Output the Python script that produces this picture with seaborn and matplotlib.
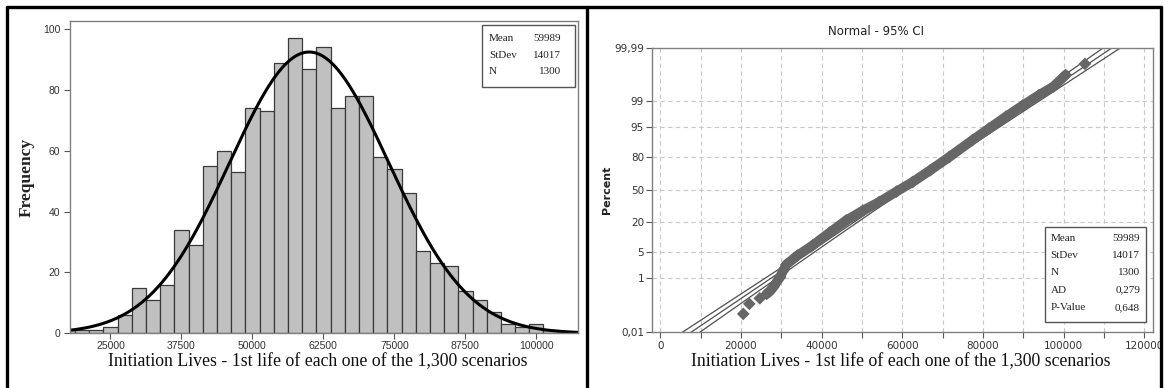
import numpy as np
import pandas as pd
import matplotlib
matplotlib.use("Agg")
import matplotlib.pyplot as plt
import seaborn as sns
from matplotlib.patches import Rectangle
from matplotlib.lines import Line2D
from statistics import NormalDist

# ---------------- data ----------------
bin_centers = [17500, 20000, 22500, 25000, 27500, 30000, 32500, 35000, 37500, 40000,
               42500, 45000, 47500, 50000, 52500, 55000, 57500, 60000, 62500, 65000,
               67500, 70000, 72500, 75000, 77500, 80000, 82500, 85000, 87500, 90000,
               92500, 95000, 97500, 100000, 102500]
counts = [1, 1, 1, 2, 6, 15, 11, 16, 34, 29,
          55, 60, 53, 74, 73, 89, 97, 87, 94, 74,
          78, 78, 58, 54, 46, 27, 23, 22, 14, 11,
          7, 3, 2, 3, 1]
bin_width = 2500

mean_val = 59989
std_val = 14017
n_val = 1300
ad_text = "0,279"
pval_text = "0,648"

# probability plot: points (value, cumulative percent)
pp_value = [20600, 22100, 24700, 26400, 27200, 28000, 29700, 30500, 31300,
            34000, 37800, 42000, 46100, 50200, 54300, 58600, 62600, 67000,
            71700, 77400, 81500, 85700, 89800, 93900, 97500, 100500, 105300]
pp_percent = [0.057, 0.139, 0.222, 0.317, 0.39, 0.53, 1.09, 1.71, 2.5,
              4.2, 7.2, 13.0, 21.0, 29.0, 37.3, 48.0, 57.9, 69.5,
              80.4, 90.2, 94.5, 97.17, 98.6, 99.33, 99.65, 99.865, 99.95]
# points that sit apart from the dense band (drawn as lone diamonds)
pp_isolated = [True, True, True, False, False, False, False, False, False,
               False, False, False, False, False, False, False, False, False,
               False, False, False, False, False, False, False, False, True]

hist_xticks = [25000, 37500, 50000, 62500, 75000, 87500, 100000]
hist_yticks = [0, 20, 40, 60, 80, 100]
prob_xticks = [0, 20000, 40000, 60000, 80000, 100000, 120000]
prob_ypct = [0.01, 1, 5, 20, 50, 80, 95, 99, 99.99]
prob_ylabels = ["0,01", "1", "5", "20", "50", "80", "95", "99", "99,99"]
xlabel_text = "Initiation Lives - 1st life of each one of the 1,300 scenarios"

# ---------------- figure ----------------
W, H = 1164, 388
sns.set_theme(style="white")
plt.rcParams['font.family'] = ['DejaVu Sans']
fig = plt.figure(figsize=(W / 100, H / 100), dpi=100)
fig.patch.set_facecolor("white")


def fx(x):
    return x / W


def fy(y):
    return 1 - y / H


def add_axes_px(x0, x1, ytop, ybot):
    return fig.add_axes([fx(x0), fy(ybot), fx(x1) - fx(x0), (ybot - ytop) / H])


# ---------- left: histogram ----------
ax1 = add_axes_px(70, 578, 20.7, 333.3)
hist_df = pd.DataFrame({"center": bin_centers, "count": counts})
sns.histplot(data=hist_df, x="center", weights="count", binwidth=bin_width,
             binrange=(bin_centers[0] - bin_width / 2, bin_centers[-1] + bin_width / 2),
             ax=ax1, color="#c0c0c0", edgecolor="#3a3a3a", linewidth=0.9, alpha=1)
xlo, xhi = 17875, 107325
xs = np.linspace(xlo, xhi, 500)
ys = n_val * bin_width * np.exp(-0.5 * ((xs - mean_val) / std_val) ** 2) / (std_val * np.sqrt(2 * np.pi))
sns.lineplot(x=xs, y=ys, ax=ax1, color="black", linewidth=2.2)
ax1.set_xlim(xlo, xhi)
ax1.set_ylim(0, 102.8)
ax1.set_xticks(hist_xticks)
ax1.set_xticklabels([str(t) for t in hist_xticks], fontsize=7.5,
                    family="Liberation Sans", color="#333333")
ax1.set_yticks(hist_yticks)
ax1.set_yticklabels([str(t) for t in hist_yticks], fontsize=7.5,
                    family="Liberation Sans", color="#333333")
ax1.tick_params(axis="both", direction="out", length=4, width=0.8, color="#555555", pad=3)
ax1.tick_params(axis="x", bottom=True, pad=1.5)
ax1.tick_params(axis="y", left=True)
for s in ax1.spines.values():
    s.set_color("#808080")
    s.set_linewidth(1.0)
ax1.set_ylabel("")
ax1.set_xlabel("")
fig.text(fx(318), fy(362), xlabel_text, ha="center", va="center",
         family="Liberation Serif", fontsize=12.8, color="#111111")
fig.text(fx(27), fy(177), "Frequency", ha="center", va="center", rotation=90,
         family="Liberation Serif", fontweight="bold", fontsize=12.5, color="#222222")

# legend box left
fig.add_artist(Rectangle((fx(482), fy(87)), fx(575) - fx(482), (87 - 25) / H,
                         transform=fig.transFigure, facecolor="white",
                         edgecolor="#555555", linewidth=1.0))
for i, (lab, val) in enumerate([("Mean", str(mean_val)), ("StDev", str(std_val)),
                                ("N", str(n_val))]):
    yy = 38.3 + i * 16.7
    fig.text(fx(489), fy(yy), lab, ha="left", va="center",
             family="Liberation Serif", fontsize=8, color="#222222")
    fig.text(fx(561), fy(yy), val, ha="right", va="center",
             family="Liberation Serif", fontsize=8, color="#222222")

# ---------- right: probability plot ----------
nd = NormalDist()
ax2 = add_axes_px(651.7, 1152.7, 47.5, 331.7)
zlim = nd.inv_cdf(0.9999)

zfit = np.linspace(-zlim - 0.2, zlim + 0.2, 200)
xfit = mean_val + std_val * zfit
ci = 1.96 * std_val * np.sqrt((1 + zfit ** 2 / 2) / n_val)
for xx in (xfit - ci, xfit, xfit + ci):
    sns.lineplot(x=xx, y=zfit, ax=ax2, color="#505050", linewidth=0.9, sort=False)

pp_z = [nd.inv_cdf(p / 100) for p in pp_percent]
pp_df = pd.DataFrame({"value": pp_value, "z": pp_z, "isolated": pp_isolated})
band = pp_df[~pp_df["isolated"]]
sns.lineplot(data=band, x="value", y="z", ax=ax2, color="#666666",
             linewidth=7.0, sort=False, solid_capstyle="round", solid_joinstyle="round")
sns.scatterplot(data=pp_df, x="value", y="z", ax=ax2, color="#666666",
                marker="D", s=42, edgecolor="none", zorder=5)
ax2.set_ylim(-zlim, zlim)
ax2.set_xlim(-2100, 122100)

ax2.set_yticks([nd.inv_cdf(p / 100) for p in prob_ypct])
ax2.set_yticklabels(prob_ylabels, fontsize=7.5, family="DejaVu Sans", color="#333333")
ax2.set_xticks(prob_xticks)
ax2.set_xticklabels([str(t) for t in prob_xticks], fontsize=7.5,
                    family="DejaVu Sans", color="#333333")
ax2.set_xticks(np.arange(10000, 120000, 20000), minor=True)
ax2.tick_params(axis="both", which="both", direction="out", length=4, width=0.8,
                color="#555555", pad=1.5)
ax2.tick_params(axis="x", which="both", bottom=True, pad=3)
ax2.tick_params(axis="y", left=True)
# grid
for gx in np.arange(0, 120001, 10000):
    ax2.axvline(gx, color="#c8c8c8", linestyle=(0, (4, 3)), linewidth=0.8, zorder=0)
for gz in [nd.inv_cdf(p / 100) for p in prob_ypct[1:-1]]:
    ax2.axhline(gz, color="#c8c8c8", linestyle=(0, (4, 3)), linewidth=0.8, zorder=0)
for s in ax2.spines.values():
    s.set_color("#808080")
    s.set_linewidth(1.0)
ax2.set_xlabel("")
ax2.set_ylabel("")
fig.text(fx(876), fy(31.7), "Normal - 95% CI", ha="center", va="center",
         family="DejaVu Sans", fontsize=8.5, color="#222222")
fig.text(fx(606.7), fy(190), "Percent", ha="center", va="center", rotation=90,
         family="DejaVu Sans", fontweight="bold", fontsize=8, color="#222222")
fig.text(fx(901), fy(362), xlabel_text, ha="center", va="center",
         family="Liberation Serif", fontsize=12.8, color="#111111")

# legend box right
fig.add_artist(Rectangle((fx(1045), fy(321.7)), fx(1146) - fx(1045), (321.7 - 226.7) / H,
                         transform=fig.transFigure, facecolor="white",
                         edgecolor="#555555", linewidth=1.0, zorder=10))
rows = [("Mean", str(mean_val)), ("StDev", str(std_val)), ("N", str(n_val)),
        ("AD", ad_text), ("P-Value", pval_text)]
for i, (lab, val) in enumerate(rows):
    yy = 238.5 + i * 17.2
    fig.text(fx(1050.7), fy(yy), lab, ha="left", va="center", zorder=11,
             family="Liberation Serif", fontsize=8, color="#222222")
    fig.text(fx(1140), fy(yy), val, ha="right", va="center", zorder=11,
             family="Liberation Serif", fontsize=8, color="#222222")

# outer black frame and divider
lw = 2.4
for (x0, y0, x1, y1) in [(7, 6.5, 1161, 6.5), (7, 6.5, 7, 388), (586.5, 6.5, 586.5, 388),
                         (1161, 6.5, 1161, 388)]:
    fig.add_artist(Line2D([fx(x0), fx(x1)], [fy(y0), fy(y1)], transform=fig.transFigure,
                          color="black", linewidth=lw))

fig.savefig("out.png", dpi=100, facecolor="white")
